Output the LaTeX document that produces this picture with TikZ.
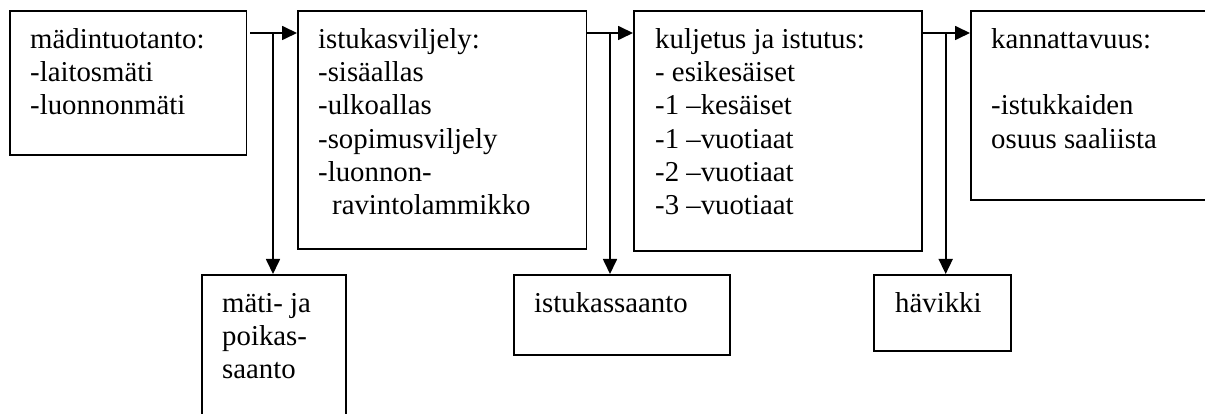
\documentclass[tikz,border=0pt]{standalone}
\usepackage{fontspec}
\setmainfont{Liberation Serif}
\usetikzlibrary{arrows.meta}
\begin{document}
\begin{tikzpicture}[x=1pt,y=-1pt,
  box/.style={draw, line width=1.7pt, inner sep=0pt, anchor=north west},
  txt/.style={anchor=north west, inner sep=0pt, align=left, font=\fontsize{28.8}{33.3}\selectfont},
  arr/.style={line width=1.7pt, -{Triangle[length=15pt,width=14pt]}}]
\useasboundingbox (0,0) rectangle (1205,414);
\clip (0,0) rectangle (1205,414);
% boxes
\node[box, minimum width=236.5pt, minimum height=144pt] (b1) at (9,10) {};
\node[box, minimum width=288.5pt, minimum height=238pt] (b2) at (297,10) {};
\node[box, minimum width=288pt, minimum height=240pt] (b3) at (633,10) {};
\node[box, minimum width=250pt, minimum height=189pt] (b4) at (970,10) {};
\node[box, minimum width=144pt, minimum height=160pt] (s1) at (201,274) {};
\node[box, minimum width=216pt, minimum height=80pt] (s2) at (513,274) {};
\node[box, minimum width=137pt, minimum height=76pt] (s3) at (873,274) {};
% texts
\node[txt] (t1) at (30,24.7) {\strut mädintuotanto:\\-laitosmäti\\-luonnonmäti};
\node[txt] (t2) at (318,24.7) {\strut istukasviljely:\\-sisäallas\\-ulkoallas\\-sopimusviljely\\-luonnon-\\\hspace*{14pt}ravintolammikko};
\node[txt] (t3) at (655,24.7) {\strut kuljetus ja istutus:\\- esikesäiset\\-1 –kesäiset\\-1 –vuotiaat\\-2 –vuotiaat\\-3 –vuotiaat};
\node[txt] (t4) at (991,24.7) {\strut kannattavuus:\\[33.3pt]-istukkaiden\\osuus saaliista};
\node[txt] (u1) at (222,288.7) {\strut mäti- ja\\poikas-\\saanto};
\node[txt] (u2) at (534,288.7) {\strut istukassaanto};
\node[txt] (u3) at (895,288.7) {\strut hävikki};
% connectors
\coordinate (j1) at (273,33);
\coordinate (j2) at (610,33);
\coordinate (j3) at (945.7,33);
\draw[arr, shorten <=3pt] (b1.east |- j1) -- (b2.west |- j1);
\draw[arr] (j1) -- (j1 |- s1.north);
\draw[arr] (b2.east |- j2) -- (b3.west |- j2);
\draw[arr] (j2) -- (j2 |- s2.north);
\draw[arr] (b3.east |- j3) -- (b4.west |- j3);
\draw[arr] (j3) -- (j3 |- s3.north);
\end{tikzpicture}
\end{document}
